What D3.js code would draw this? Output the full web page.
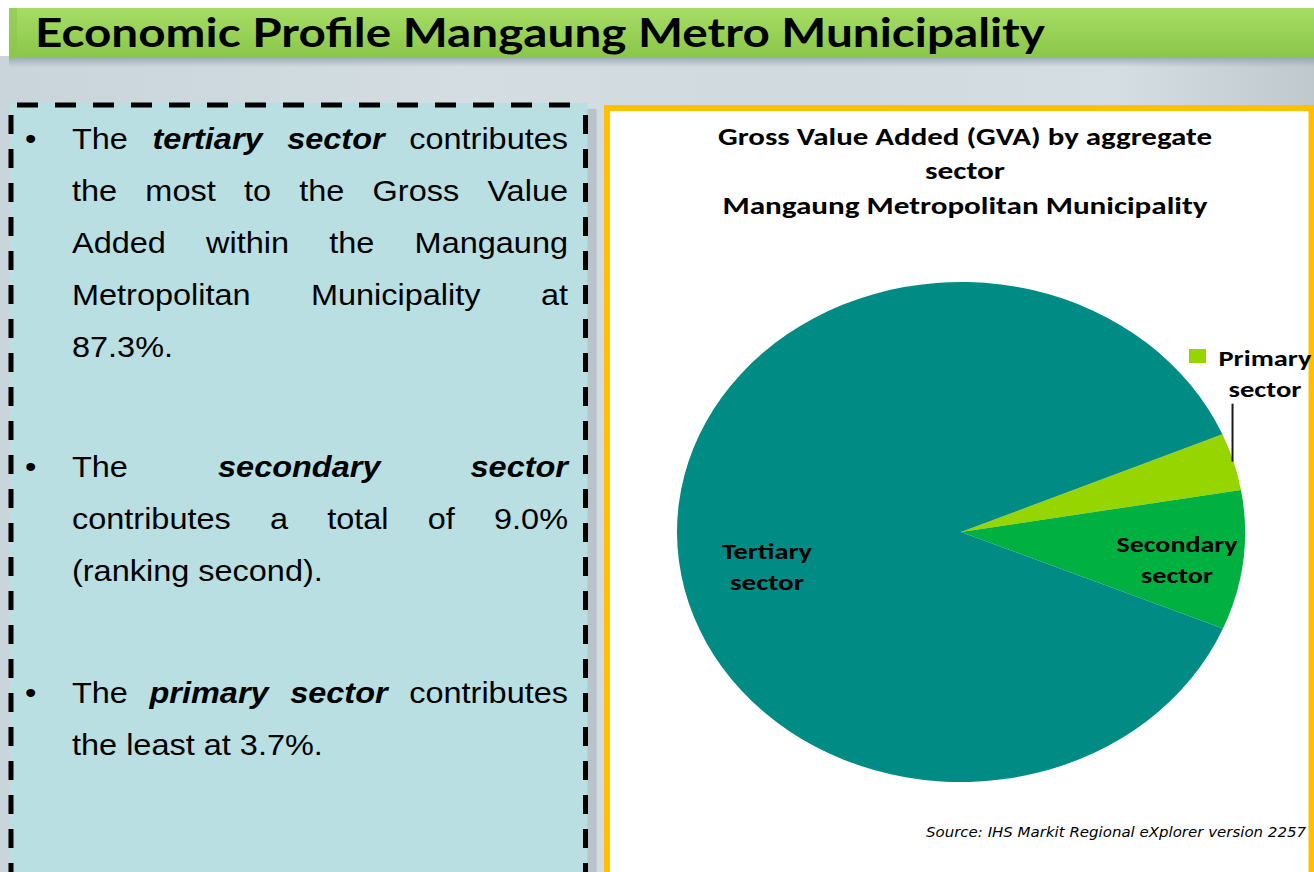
<!DOCTYPE html>
<html>
<head>
<meta charset="utf-8">
<script src="https://cdn.jsdelivr.net/npm/d3@7"></script>
<style>
  html, body { margin: 0; padding: 0; background: #fff; overflow: hidden; }
  svg { display: block; }
</style>
</head>
<body>
<svg id="slide" width="1314" height="872"></svg>
<script>
// ---- data ----
const sectors = ["Primary sector", "Secondary sector", "Tertiary sector"];
const gvaShare = [3.7, 9.0, 87.3];
const sectorColors = ["#97D500", "#00B041", "#008C85"];
const sectorLabelLines = [["Primary", "sector"], ["Secondary", "sector"], ["Tertiary", "sector"]];
const chartTitle = ["Gross Value Added (GVA) by aggregate", "sector", "Mangaung Metropolitan Municipality"];
const headerTitle = "Economic Profile Mangaung Metro Municipality";
const sourceNote = "Source: IHS Markit Regional eXplorer version 2257";

const pct = v => d3.format(".1f")(v) + "%";

// bullet paragraphs; *word* = bold italic
const paragraphs = [
  ["The *tertiary* *sector* contributes",
   "the most to the Gross Value",
   "Added within the Mangaung",
   "Metropolitan Municipality at",
   pct(gvaShare[2]) + "."],
  ["The *secondary* *sector*",
   "contributes a total of " + pct(gvaShare[1]),
   "(ranking second)."],
  ["The *primary* *sector* contributes",
   "the least at " + pct(gvaShare[0]) + "."]
];

// ---- layout ----
const W = 1314, H = 872;
const svg = d3.select("#slide");
const defs = svg.append("defs");

// backdrop gradient
const bg = defs.append("linearGradient").attr("id", "bgGrad").attr("x1", 0).attr("x2", 1).attr("y1", 0).attr("y2", 0);
[["0%", "#C9D5DB"], ["35%", "#D3DDE2"], ["60%", "#D0DADF"], ["85%", "#D5DEE2"], ["100%", "#BFC8CD"]]
  .forEach(([o, c]) => bg.append("stop").attr("offset", o).attr("stop-color", c));

const hdr = defs.append("linearGradient").attr("id", "hdrGrad").attr("x1", 0).attr("x2", 0).attr("y1", 0).attr("y2", 1);
[["0%", "#A6DD66"], ["50%", "#98D257"], ["100%", "#8AC64A"]]
  .forEach(([o, c]) => hdr.append("stop").attr("offset", o).attr("stop-color", c));

const shadow = defs.append("linearGradient").attr("id", "shGrad").attr("x1", 0).attr("x2", 0).attr("y1", 0).attr("y2", 1);
shadow.append("stop").attr("offset", "0%").attr("stop-color", "#8E9DA3").attr("stop-opacity", 0.7);
shadow.append("stop").attr("offset", "100%").attr("stop-color", "#8E9DA3").attr("stop-opacity", 0);

svg.append("rect").attr("x", 0).attr("y", 0).attr("width", W).attr("height", H).attr("fill", "#fff");
svg.append("rect").attr("x", 0).attr("y", 56).attr("width", W).attr("height", H - 56).attr("fill", "url(#bgGrad)");

// header bar
svg.append("rect").attr("x", 9).attr("y", 8).attr("width", W - 9).attr("height", 50).attr("fill", "url(#hdrGrad)");
svg.append("rect").attr("x", 9).attr("y", 8).attr("width", 8).attr("height", 50).attr("fill", "#8FC453").attr("opacity", 0.6);
svg.append("rect").attr("x", 9).attr("y", 58).attr("width", W - 9).attr("height", 9).attr("fill", "url(#shGrad)");
svg.append("text")
  .attr("x", 35).attr("y", 47)
  .attr("font-family", "'URW Gothic', 'Century Gothic', Lato, 'DejaVu Sans', sans-serif")
  .attr("font-weight", 700).attr("font-size", 40)
  .attr("textLength", 1010).attr("lengthAdjust", "spacingAndGlyphs")
  .attr("fill", "#000")
  .text(headerTitle);

// ---- left text panel ----
const pL = 11, pR = 585.5, pT = 105;
svg.append("rect").attr("x", pR + 1).attr("y", pT + 4).attr("width", 10).attr("height", H).attr("fill", "#A9B4BA").attr("opacity", 0.6);
svg.append("rect").attr("x", pL - 2).attr("y", pT - 2).attr("width", pR - pL + 4).attr("height", H).attr("fill", "#B9DFE2");
const dash = (x1, y1, x2, y2, da) => svg.append("line")
  .attr("x1", x1).attr("y1", y1).attr("x2", x2).attr("y2", y2)
  .attr("stroke", "#000").attr("stroke-width", 5).attr("stroke-dasharray", da);
dash(pL + 6, pT, pR, pT, "21 17");
dash(pL, pT + 10, pL, H + 10, "19 15");
dash(pR, pT + 10, pR, H + 10, "19 15");

// justified bullet copy (type is horizontally stretched like the rest of the slide)
const sx = 1.12;
const tg = svg.append("g").attr("transform", `scale(${sx},1)`)
  .attr("font-family", "'Liberation Sans', Arial, sans-serif").attr("font-size", 29).attr("fill", "#000");
const textL = 72 / sx, textR = 568 / sx, lineGap = 52;
const paraTop = [149, 477, 703];
paragraphs.forEach((lines, pi) => {
  tg.append("text").attr("x", 25 / sx).attr("y", paraTop[pi]).text("\u2022");
  lines.forEach((line, li) => {
    const y = paraTop[pi] + li * lineGap;
    const words = line.split(" ").map(w => ({ t: w.replace(/\*/g, ""), em: w.startsWith("*") }));
    const nodes = words.map(w => tg.append("text")
      .attr("y", y)
      .attr("font-weight", w.em ? 700 : 400)
      .attr("font-style", w.em ? "italic" : "normal")
      .text(w.t));
    const widths = nodes.map(n => n.node().getComputedTextLength());
    const isLast = li === lines.length - 1;
    const gap = (isLast || words.length < 2) ? 29 * 0.278 : (textR - textL - d3.sum(widths)) / (words.length - 1);
    let x = textL;
    nodes.forEach((n, k) => { n.attr("x", x); x += widths[k] + gap; });
  });
});

// ---- right chart panel ----
svg.append("rect").attr("x", 607).attr("y", 108).attr("width", 704.5).attr("height", H)
  .attr("fill", "#fff").attr("stroke", "#FFC000").attr("stroke-width", 6);

const chartFont = "Carlito, Calibri, Lato, 'Open Sans', sans-serif";
const titleWidths = [494, 80, 485];
const titleY = [145, 179, 214];
chartTitle.forEach((t, i) => {
  svg.append("text")
    .attr("x", 965).attr("y", titleY[i]).attr("text-anchor", "middle")
    .attr("font-family", chartFont).attr("font-weight", 700).attr("font-size", 24)
    .attr("textLength", titleWidths[i]).attr("lengthAdjust", "spacingAndGlyphs")
    .attr("fill", "#000").text(t);
});

// pie (elliptical: stretched horizontally)
const cx = 961, cy = 532, R = 250, ex = 1.136;
const start = 67 * Math.PI / 180;
const pie = d3.pie().sort(null).value(d => d).startAngle(start).endAngle(start + 2 * Math.PI);
const arcs = pie(gvaShare);
const arc = d3.arc().innerRadius(0).outerRadius(R);
const pg = svg.append("g").attr("transform", `translate(${cx},${cy}) scale(${ex},1)`);
pg.selectAll("path").data(arcs).join("path")
  .attr("d", arc)
  .attr("fill", (d, i) => sectorColors[i]);

// data labels
const lblFont = { "font-family": chartFont, "font-weight": 700, "font-size": 23, "fill": "#000" };
const labelAnchor = [
  { dx: 304, dy: -166 },   // primary (outside, with leader)
  { dx: 216, dy: 20 },     // secondary
  { dx: -194, dy: 27 }     // tertiary
];
const labelWidths = [[93, 73], [121, 72], [90, 74]];
sectorLabelLines.forEach((lines, i) => {
  lines.forEach((t, j) => {
    const el = svg.append("text")
      .attr("x", cx + labelAnchor[i].dx).attr("y", cy + labelAnchor[i].dy + j * 31)
      .attr("text-anchor", "middle")
      .attr("textLength", labelWidths[i][j]).attr("lengthAdjust", "spacingAndGlyphs")
      .text(t);
    Object.entries(lblFont).forEach(([k, v]) => el.attr(k, v));
  });
});

// primary leader line from the slice rim upward, plus legend key
const mid = (arcs[0].startAngle + arcs[0].endAngle) / 2;
const rimX = cx + ex * R * Math.sin(mid), rimY = cy - R * Math.cos(mid);
svg.append("line")
  .attr("x1", rimX - 1).attr("y1", rimY).attr("x2", rimX - 1).attr("y2", rimY - 58)
  .attr("stroke", "#1a1a1a").attr("stroke-width", 2);
svg.append("rect")
  .attr("x", 1189).attr("y", 349).attr("width", 17).attr("height", 14)
  .attr("fill", sectorColors[0]);

// source note
svg.append("text")
  .attr("x", 1306).attr("y", 837).attr("text-anchor", "end")
  .attr("font-family", "Verdana, 'DejaVu Sans', sans-serif").attr("font-style", "italic")
  .attr("font-size", 13.5).attr("textLength", 380).attr("lengthAdjust", "spacingAndGlyphs")
  .attr("fill", "#000").text(sourceNote);
</script>
</body>
</html>
